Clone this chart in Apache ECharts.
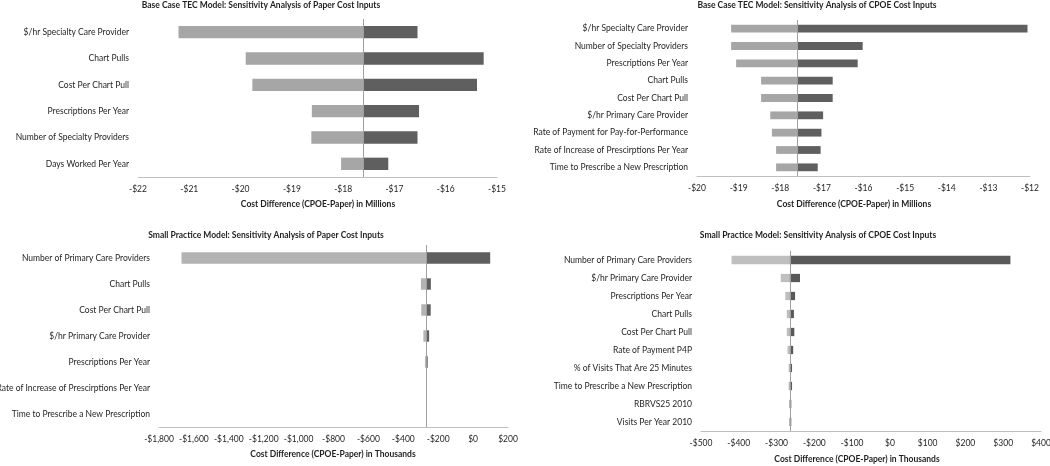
<!DOCTYPE html>
<html><head><meta charset="utf-8">
<script src="https://cdn.jsdelivr.net/npm/echarts@6/dist/echarts.min.js"></script>
<style>html,body{margin:0;padding:0;background:#fff}#c{width:1050px;height:466px}</style>
</head><body><div id="c"></div>
<script>
// Chart 1: Base Case TEC Model - Paper (millions)
var title1 = 'Base Case TEC Model: Sensitivity Analysis of Paper Cost Inputs';
var cats1 = ['$/hr Specialty Care Provider','Chart Pulls','Cost Per Chart Pull','Prescriptions Per Year','Number of Specialty Providers','Days Worked Per Year'];
var low1 = [-21.21,-19.9,-19.77,-18.61,-18.62,-18.04];
var high1 = [-16.55,-15.26,-15.39,-16.52,-16.55,-17.12];
var base1 = -17.6;
var axis1 = 'Cost Difference (CPOE-Paper) in Millions';

// Chart 2: Base Case TEC Model - CPOE (millions)
var title2 = 'Base Case TEC Model: Sensitivity Analysis of CPOE Cost Inputs';
var cats2 = ['$/hr Specialty Care Provider','Number of Specialty Providers','Prescriptions Per Year','Chart Pulls','Cost Per Chart Pull','$/hr Primary Care Provider','Rate of Payment for Pay-for-Performance','Rate of Increase of Prescirptions Per Year','Time to Prescribe a New Prescription'];
var low2 = [-19.18,-19.18,-19.06,-18.46,-18.46,-18.24,-18.2,-18.1,-18.1];
var high2 = [-12.06,-16.02,-16.14,-16.74,-16.74,-16.97,-17.01,-17.03,-17.1];
var base2 = -17.6;
var axis2 = 'Cost Difference (CPOE-Paper) in Millions';

// Chart 3: Small Practice Model - Paper (thousands)
var title3 = 'Small Practice Model: Sensitivity Analysis of Paper Cost Inputs';
var cats3 = ['Number of Primary Care Providers','Chart Pulls','Cost Per Chart Pull','$/hr Primary Care Provider','Prescriptions Per Year','Rate of Increase of Prescirptions Per Year','Time to Prescribe a New Prescription'];
var low3 = [-1671,-299,-297,-285,-276,-270,-269];
var high3 = [98,-242,-243,-252,-260,-266,-267];
var base3 = -268;
var axis3 = 'Cost Difference (CPOE-Paper) in Thousands';

// Chart 4: Small Practice Model - CPOE (thousands)
var title4 = 'Small Practice Model: Sensitivity Analysis of CPOE Cost Inputs';
var cats4 = ['Number of Primary Care Providers','$/hr Primary Care Provider','Prescriptions Per Year','Chart Pulls','Cost Per Chart Pull','Rate of Payment P4P','% of Visits That Are 25 Minutes','Time to Prescribe a New Prescription','RBRVS25 2010','Visits Per Year 2010'];
var low4 = [-419,-289,-277,-273,-273,-271,-268,-268,-267,-267];
var high4 = [319,-238,-251,-254,-253,-256,-259,-259,-261,-261];
var base4 = -265;
var axis4 = 'Cost Difference (CPOE-Paper) in Thousands';

var FONT = 'Lato';
var TXT = '#1f1f1f';

var panels = [
  {title:title1, cats:cats1, low:low1, high:high1, base:base1, axis:axis1, min:-22, max:-15, interval:1,
   grid:{left:138, top:19, width:359, height:158}, titleX:261, titleY:5, axisX:318, axisY:204, lightColor:'#a6a6a6', darkColor:'#5f5f5f', barRatio:0.47},
  {title:title2, cats:cats2, low:low2, high:high2, base:base2, axis:axis2, min:-20, max:-12, interval:1,
   grid:{left:697, top:20, width:333, height:156}, titleX:817, titleY:5, axisX:854, axisY:204, lightColor:'#a6a6a6', darkColor:'#5f5f5f', barRatio:0.45},
  {title:title3, cats:cats3, low:low3, high:high3, base:base3, axis:axis3, min:-1800, max:200, interval:200,
   grid:{left:159, top:245, width:349, height:182}, titleX:266, titleY:235, axisX:333, axisY:454, lightColor:'#b3b3b3', darkColor:'#5f5f5f', barRatio:0.44},
  {title:title4, cats:cats4, low:low4, high:high4, base:base4, axis:axis4, min:-500, max:400, interval:100,
   grid:{left:701, top:251, width:340, height:180}, titleX:818, titleY:235, axisX:857, axisY:459, lightColor:'#bfbfbf', darkColor:'#595959', barRatio:0.46}
];

function fmt(v){
  var s = Math.abs(v).toLocaleString('en-US');
  return (v < 0 ? '-' : '') + '$' + s;
}

function makeRender(color, ratio){
  return function(params, api){
    var idx = api.value(0), a = api.value(1), b = api.value(2);
    var p0 = api.coord([a, idx]);
    var p1 = api.coord([b, idx]);
    var h = api.size([0, 1])[1] * ratio;
    var x0 = Math.min(p0[0], p1[0]), w = Math.abs(p1[0] - p0[0]);
    return {type:'rect', shape:{x:x0, y:p0[1] - h/2, width:w, height:h}, style:{fill:color}};
  };
}

var option = {animation:false, grid:[], xAxis:[], yAxis:[], series:[], graphic:[]};

panels.forEach(function(p, i){
  option.grid.push({left:p.grid.left, top:p.grid.top, width:p.grid.width, height:p.grid.height, containLabel:false, outerBoundsMode:'none'});
  option.xAxis.push({type:'value', gridIndex:i, min:p.min, max:p.max, interval:p.interval,
    axisLine:{show:true, lineStyle:{color:'#bfbfbf', width:1}}, axisTick:{show:false}, splitLine:{show:false},
    axisLabel:{formatter:fmt, color:TXT, fontFamily:FONT, fontSize:8.5, margin:8}});
  option.yAxis.push({type:'category', gridIndex:i, data:p.cats, inverse:true,
    axisLine:{show:false}, axisTick:{show:false}, splitLine:{show:false},
    axisLabel:{color:TXT, fontFamily:FONT, fontSize:8.5, margin:9, interval:0}});
  var lowData = p.low.map(function(v, k){ return [k, v, p.base]; });
  var highData = p.high.map(function(v, k){ return [k, p.base, v]; });
  option.series.push({type:'custom', xAxisIndex:i, yAxisIndex:i, renderItem:makeRender(p.lightColor, p.barRatio),
    encode:{x:[1,2], y:0}, data:lowData, z:2});
  option.series.push({type:'custom', xAxisIndex:i, yAxisIndex:i, renderItem:makeRender(p.darkColor, p.barRatio),
    encode:{x:[1,2], y:0}, data:highData, z:2,
    markLine:{silent:true, symbol:'none', label:{show:false}, lineStyle:{color:'#9f9f9f', width:1, type:'solid'},
      data:[{xAxis:p.base}], z:3}});
  option.graphic.push({type:'text', x:p.titleX, y:p.titleY, style:{text:p.title, fill:TXT, font:'bold 8.5px ' + FONT, textAlign:'center', textVerticalAlign:'middle'}});
  option.graphic.push({type:'text', x:p.axisX, y:p.axisY, style:{text:p.axis, fill:TXT, font:'bold 8.5px ' + FONT, textAlign:'center', textVerticalAlign:'middle'}});
});

var chart = echarts.init(document.getElementById('c'), null, {renderer:'canvas'});
chart.setOption(option);
</script>
</body></html>
